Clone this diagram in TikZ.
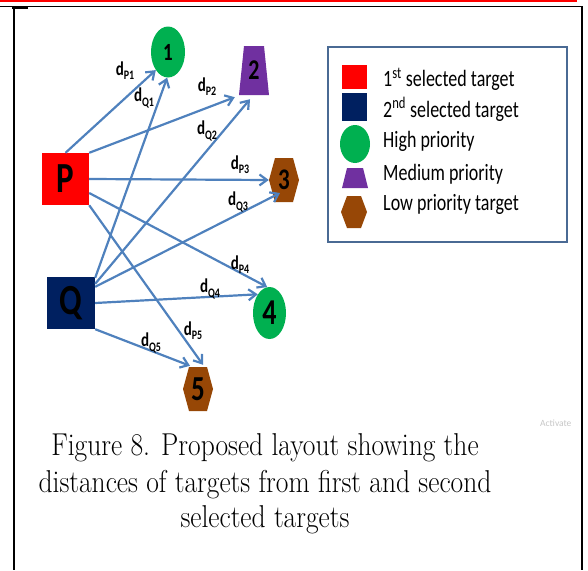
\documentclass[tikz,border=0pt]{standalone}
\usepackage{fontspec}
\usetikzlibrary{arrows.meta,shapes.geometric}

\newfontfamily\calibri{Carlito}
\newcommand\tallbox[1]{\scalebox{1}[1.3]{#1}}
\newcommand\captbox[1]{\scalebox{1}[1.15]{#1}}
\newcommand\dist[1]{\tallbox{d\raisebox{-0.45ex}{\fontsize{10}{10}\selectfont #1}}}

\definecolor{linkblue}{HTML}{4F81BD}
\definecolor{framegray}{HTML}{4A6A94}
\definecolor{selnavy}{HTML}{002060}
\definecolor{higreen}{HTML}{00B050}
\definecolor{medpurple}{HTML}{7030A0}
\definecolor{lowbrown}{HTML}{974706}

\begin{document}
\begin{tikzpicture}[x=1pt,y=-1pt,
  selbox/.style={rectangle, inner sep=0pt, font=\calibri\bfseries\fontsize{33}{33}\selectfont},
  high/.style={ellipse, fill=higreen, inner sep=0pt},
  medium/.style={rectangle, fill=white, inner sep=0pt,
    path picture={\fill[medpurple] ([xshift=5pt]path picture bounding box.north west)
      -- ([xshift=-5pt]path picture bounding box.north east)
      -- (path picture bounding box.south east)
      -- (path picture bounding box.south west) -- cycle;}},
  low/.style={rectangle, fill=white, inner sep=0pt,
    path picture={\fill[lowbrown] (path picture bounding box.west)
      -- ([xshift=6pt]path picture bounding box.north west)
      -- ([xshift=-6pt]path picture bounding box.north east)
      -- (path picture bounding box.east)
      -- ([xshift=-6pt]path picture bounding box.south east)
      -- ([xshift=6pt]path picture bounding box.south west) -- cycle;}},
  num/.style={font=\calibri\bfseries\fontsize{#1}{#1}\selectfont},
  link/.style={linkblue, line width=2.2pt, -{Straight Barb[length=7.5pt,width=11pt]}},
  dlabel/.style={inner sep=0pt, font=\calibri\bfseries\fontsize{15}{15}\selectfont},
  legtext/.style={anchor=base west, inner sep=0pt, font=\calibri\fontsize{18}{18}\selectfont},
  captext/.style={anchor=base, inner sep=0pt, font=\fontsize{27.5}{27.5}\selectfont}]

\useasboundingbox (0,0) rectangle (588,570);

% -----------------------------
% Page frame
% -----------------------------
\node[anchor=base west, inner sep=0pt, text=gray!45, font=\calibri\fontsize{9.5}{9.5}\selectfont] (wm) at (540,426) {Activate};
\draw[red, line width=2.5pt] (0,1.2) -- (577,1.2);
\draw[line width=1pt] (0,6.5) -- (583,6.5);
\draw[line width=2.5pt] (14,6) -- (14,570);   % left side
\draw[line width=2pt] (582,6) -- (582,570);   % right side
\draw[line width=2pt] (12,7.5) -- (28,7.5);

% -----------------------------
% Selected targets and targets
% -----------------------------
\node[selbox, fill=red, minimum width=47pt, minimum height=52pt] (P) at (65.5,179) {\tallbox{P}};
\node[selbox, fill=selnavy, minimum width=48pt, minimum height=52pt] (Q) at (71,303) {\tallbox{Q}};

\node[high, num=19, minimum width=34pt, minimum height=51pt] (t1) at (168,52) {\tallbox{1}};
\node[medium, num=22, minimum width=30pt, minimum height=49pt] (t2) at (254,70.5) {\tallbox{2}};
\node[low, num=23, minimum width=30pt, minimum height=44pt] (t3) at (284,180) {\tallbox{3}};
\node[high, num=28, minimum width=33pt, minimum height=52pt] (t4) at (269.5,313) {\tallbox{4}};
\node[low, num=27, minimum width=30pt, minimum height=44pt] (t5) at (198,389) {\tallbox{5}};

% -----------------------------
% Distances from P and Q
% -----------------------------
\draw[link] (P.north) -- (t1.236);
\draw[link] (P.north east) -- ([xshift=-4pt,yshift=-2pt]t2.south west);
\draw[link] (P.east) -- (t3.west);
\draw[link] ([yshift=-14pt]P.east) -- (t4.95);
\draw[link] (P.south east) -- ([xshift=5pt,yshift=2pt]t5.north);

\draw[link] ([yshift=-1pt]Q.north east) -- (t1.268);
\draw[link] ([yshift=-7pt]Q.north east) -- ([xshift=-4pt,yshift=-4pt]t2.south);
\draw[link] ([yshift=-10pt]Q.north east) -- ([xshift=-4pt,yshift=-13pt]t3.center);
\draw[link] (Q.east) -- (t4.122);
\draw[link] (Q.south east) -- ([xshift=-8pt,yshift=1pt]t5.north);

\node[dlabel] (dP1) at (125,71) {\dist{P1}};
\node[dlabel] (dQ1) at (144,98) {\dist{Q1}};
\node[dlabel] (dP2) at (207,87) {\dist{P2}};
\node[dlabel] (dQ2) at (207,131) {\dist{Q2}};
\node[dlabel] (dP3) at (240,165) {\dist{P3}};
\node[dlabel] (dQ3) at (238,202) {\dist{Q3}};
\node[dlabel] (dP4) at (240,265) {\dist{P4}};
\node[dlabel] (dQ4) at (210,289) {\dist{Q4}};
\node[dlabel] (dP5) at (193,331) {\dist{P5}};
\node[dlabel] (dQ5) at (151,343) {\dist{Q5}};

% -----------------------------
% Legend
% -----------------------------
\draw[framegray, line width=2pt] (328,47) rectangle (567,242);

\node[selbox, fill=red, minimum width=25pt, minimum height=24pt] (lg1) at (354.5,77) {};
\node[selbox, fill=selnavy, minimum width=25pt, minimum height=28pt] (lg2) at (354.5,107) {};
\node[high, minimum width=30pt, minimum height=38pt] (lg3) at (355,144) {};
\node[medium, minimum width=26pt, minimum height=20pt] (lg4) at (355,178) {};
\node[low, minimum width=26pt, minimum height=32pt] (lg5) at (354,212) {};

\node[legtext] (lt1) at (383,86.7) {\tallbox{1\textsuperscript{st} selected target}};
\node[legtext] (lt2) at (383,117) {\tallbox{2\textsuperscript{nd} selected target}};
\node[legtext] (lt3) at (383,147) {\tallbox{High priority}};
\node[legtext] (lt4) at (383,180) {\tallbox{Medium priority}};
\node[legtext] (lt5) at (383,210) {\tallbox{Low priority target}};

% -----------------------------
% Caption
% -----------------------------
\node[captext] (cap1) at (265,455) {\captbox{Figure 8. Proposed layout showing the}};
\node[captext] (cap2) at (265,492) {\captbox{distances of targets from first and second}};
\node[captext] (cap3) at (265,527) {\captbox{selected targets}};

\end{tikzpicture}
\end{document}
